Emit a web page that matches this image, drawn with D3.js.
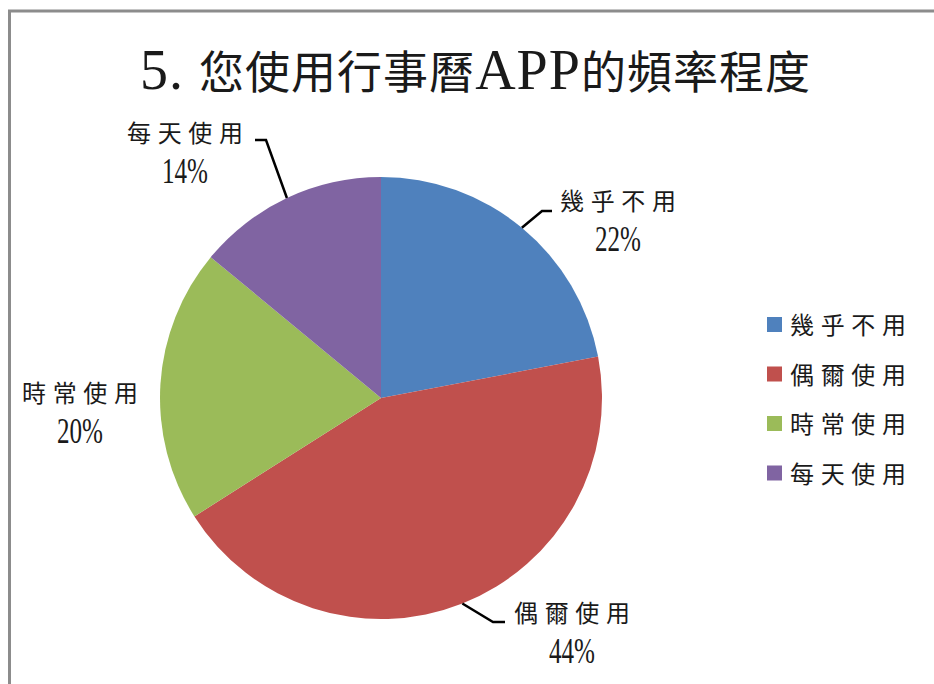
<!DOCTYPE html>
<html lang="zh-Hant">
<head>
<meta charset="utf-8">
<script src="https://d3js.org/d3.v7.min.js"></script>
<style>
  body { margin: 0; background: #fff; }
  text { fill: #1a1a1a; }
</style>
</head>
<body>
<script>
// data
var categories = ["幾乎不用", "偶爾使用", "時常使用", "每天使用"];
var percents = [22, 44, 20, 14];
var colours = ["#4F81BD", "#C0504D", "#9BBB59", "#8064A2"];
var titleText = ["5. ", "您使用行事曆", "APP", "的頻率程度"];

var width = 934, height = 684;
var cx = 381, cy = 398, radius = 221;

// label layout (centre of the name line), and leader line elbows
var labelPos = [
  {x: 618, y: 210, line: [[552, 211], [542, 211]]},
  {x: 572, y: 622, line: [[505, 622], [493, 622]]},
  {x: 80,  y: 402, line: null},
  {x: 185, y: 142, line: [[255, 140], [266, 140]]}
];

var cjk = "'Noto Sans CJK TC', 'Noto Sans CJK SC', sans-serif";
var serif = "'Liberation Serif', 'DejaVu Serif', serif";

var svg = d3.select("body").append("svg")
    .attr("width", width)
    .attr("height", height);

// chart frame
svg.append("rect")
   .attr("x", 9.5).attr("y", 11)
   .attr("width", 960).attr("height", 720)
   .attr("fill", "#fff")
   .attr("stroke", "#8c8c8c")
   .attr("stroke-width", 3);

// title
var title = svg.append("text")
   .attr("x", 475).attr("y", 89)
   .attr("text-anchor", "middle")
   .attr("textLength", 670)
   .attr("lengthAdjust", "spacing");
titleText.forEach(function(t, i) {
  var latin = (i % 2 === 0);
  title.append("tspan")
       .attr("font-family", latin ? serif : cjk)
       .attr("font-size", latin ? 56 : 45)
       .text(t);
});

var pie = d3.pie().sort(null).value(function(d) { return d; });
var arcs = pie(percents);
var arc = d3.arc().innerRadius(0).outerRadius(radius);

var g = svg.append("g").attr("transform", "translate(" + cx + "," + cy + ")");
g.selectAll("path")
 .data(arcs)
 .enter().append("path")
 .attr("d", arc)
 .attr("fill", function(d, i) { return colours[i]; });

// leader lines: from the slice edge (mid angle) to the label
arcs.forEach(function(a, i) {
  var lp = labelPos[i];
  if (!lp.line) return;
  var mid = (a.startAngle + a.endAngle) / 2;
  var p0 = [cx + radius * Math.sin(mid), cy - radius * Math.cos(mid)];
  svg.append("path")
     .attr("d", d3.line()([lp.line[0], lp.line[1], p0]))
     .attr("fill", "none")
     .attr("stroke", "#000")
     .attr("stroke-width", 2.5);
});

// data labels
arcs.forEach(function(a, i) {
  var lp = labelPos[i];
  svg.append("text")
     .attr("x", lp.x).attr("y", lp.y)
     .attr("text-anchor", "middle")
     .attr("font-family", cjk)
     .attr("font-size", 24)
     .attr("textLength", 116)
     .attr("lengthAdjust", "spacing")
     .text(categories[i]);
  svg.append("text")
     .attr("x", lp.x).attr("y", lp.y + 41)
     .attr("text-anchor", "middle")
     .attr("font-family", serif)
     .attr("font-size", 35)
     .attr("textLength", 46)
     .attr("lengthAdjust", "spacingAndGlyphs")
     .text(percents[i] + "%");
});

// legend
var legend = svg.append("g").attr("transform", "translate(767,317)");
var row = legend.selectAll("g")
   .data(categories)
   .enter().append("g")
   .attr("transform", function(d, i) { return "translate(0," + (i * 49.5) + ")"; });
row.append("rect")
   .attr("width", 15).attr("height", 15)
   .attr("fill", function(d, i) { return colours[i]; });
row.append("text")
   .attr("x", 23).attr("y", 17)
   .attr("font-family", cjk)
   .attr("font-size", 24)
   .attr("textLength", 116)
   .attr("lengthAdjust", "spacing")
   .text(function(d) { return d; });
</script>
</body>
</html>
